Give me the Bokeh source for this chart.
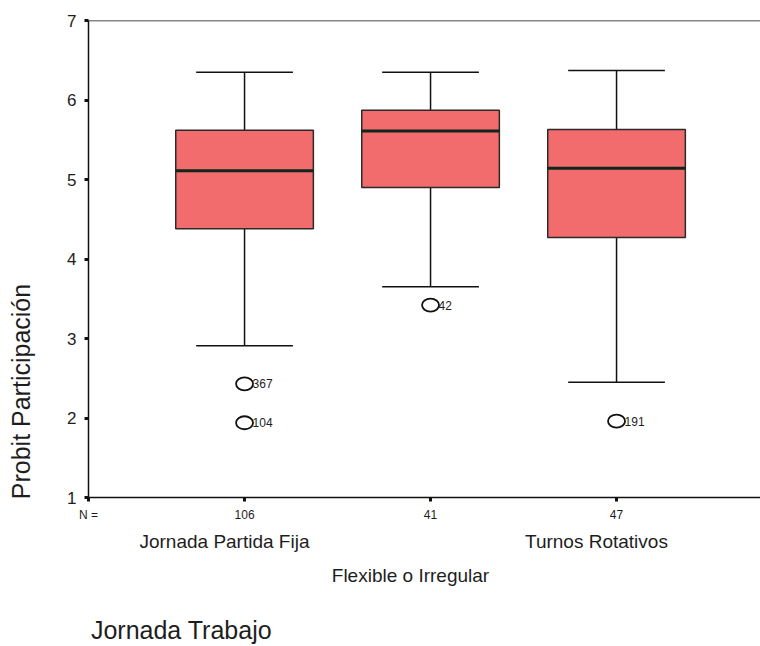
from bokeh.embed import file_html
from bokeh.resources import INLINE
from bokeh.plotting import figure
from bokeh.models import ColumnDataSource, Span, FixedTicker, LinearAxis
from bokeh.core.properties import value

# Group labels and sample sizes
categories = ["Jornada Partida Fija", "Flexible o Irregular", "Turnos Rotativos"]
n_counts = [106, 41, 47]
group_title = "Jornada Trabajo"
y_title = "Probit Participación"

# Box-plot statistics per group
whisker_low = [2.91, 3.65, 2.45]
q1 = [4.38, 4.90, 4.27]
median = [5.11, 5.61, 5.14]
q3 = [5.62, 5.87, 5.63]
whisker_high = [6.35, 6.35, 6.37]

# Outlying cases (group index, value, case id)
outlier_group = [1, 1, 2, 3]
outlier_value = [2.43, 1.94, 3.42, 1.96]
outlier_id = ["367", "104", "42", "191"]

FONT = "Liberation Sans"
TXT = "#1e1e1e"
INK = "#111111"

xs = [1, 2, 3]
box_w = 0.74
cap_w = 0.52
x_start, x_end = 0.161, 3.774
label_shift = -0.108          # category names sit a little left of their box
group_title_at = 0.661        # centre of the grouping-variable caption
ylabel_at = 2.333             # where the rotated y title is centred

p = figure(width=760, height=646, output_backend="svg", toolbar_location=None,
           x_range=(x_start, x_end), y_range=(1, 7))
p.min_border_left = 88
p.min_border_right = 0
p.min_border_top = 20
p.min_border_bottom = 0
p.outline_line_color = None
p.grid.visible = False

# Top border of the plot frame
p.add_layout(Span(location=7, dimension="width", line_color=INK, line_width=1.5))

src = ColumnDataSource(dict(
    x=xs, lo=whisker_low, q1=q1, med=median, q3=q3, hi=whisker_high,
    cl=[x - cap_w / 2 for x in xs], cr=[x + cap_w / 2 for x in xs],
    bl=[x - box_w / 2 for x in xs], br=[x + box_w / 2 for x in xs],
))

# Whiskers and caps
p.segment(x0="x", y0="q3", x1="x", y1="hi", source=src, line_color=INK, line_width=1.5)
p.segment(x0="x", y0="lo", x1="x", y1="q1", source=src, line_color=INK, line_width=1.5)
p.segment(x0="cl", y0="hi", x1="cr", y1="hi", source=src, line_color=INK, line_width=1.5)
p.segment(x0="cl", y0="lo", x1="cr", y1="lo", source=src, line_color=INK, line_width=1.5)

# Boxes and medians
p.quad(left="bl", right="br", bottom="q1", top="q3", source=src,
       fill_color="#F26B6D", line_color="#2a2a2a", line_width=1.5)
p.segment(x0="bl", y0="med", x1="br", y1="med", source=src,
          line_color="#10261a", line_width=3)

# Outliers with their case numbers
osrc = ColumnDataSource(dict(x=outlier_group, y=outlier_value, t=outlier_id))
p.ellipse(x="x", y="y", width=17, height=13, width_units="screen", height_units="screen",
          source=osrc, fill_color=None, line_color=INK, line_width=1.8)
p.text(x="x", y="y", text="t", source=osrc, x_offset=8, text_baseline="middle",
       text_font=value(FONT), text_font_size="12px", text_color=TXT)


def text_row(ticks, labels, size, standoff):
    """An axis with no line or ticks, used only to place text below/left of the frame."""
    ax = LinearAxis(ticker=FixedTicker(ticks=ticks),
                    major_label_overrides=dict(zip(ticks, labels)))
    ax.axis_line_color = None
    ax.major_tick_line_color = None
    ax.minor_tick_line_color = None
    ax.major_tick_out = 0
    ax.major_tick_in = 0
    ax.major_label_text_font = FONT
    ax.major_label_text_color = TXT
    ax.major_label_text_font_size = size
    ax.major_label_standoff = standoff
    return ax


# Main axes
p.yaxis.ticker = FixedTicker(ticks=[1, 2, 3, 4, 5, 6, 7])
p.xaxis.ticker = FixedTicker(ticks=[x_start] + xs)
p.xaxis.major_label_overrides = {x_start: "N =", **{x: str(n) for x, n in zip(xs, n_counts)}}
for ax in (p.xaxis, p.yaxis):
    ax.axis_line_color = INK
    ax.axis_line_width = 1.5
    ax.major_tick_line_color = INK
    ax.major_tick_line_width = 3
    ax.major_tick_in = 0
    ax.major_tick_out = 4
    ax.minor_tick_line_color = None
    ax.major_label_text_font = FONT
    ax.major_label_text_color = TXT
p.yaxis.major_label_text_font_size = "17px"
p.yaxis.major_label_standoff = 8
p.xaxis.major_label_text_font_size = "12px"
p.xaxis.major_label_standoff = 6

# Category names, staggered on two rows, then the grouping variable
row1 = [xs[0] + label_shift, xs[2] + label_shift]
p.add_layout(text_row(row1, [categories[0], categories[2]], "19px", 6), "below")
row2 = [xs[1] + label_shift]
p.add_layout(text_row(row2, [categories[1]], "19px", 10), "below")
p.add_layout(text_row([group_title_at], [group_title], "25px", 27), "below")

# Rotated y title
ytitle = text_row([ylabel_at], [y_title], "25px", 29)
ytitle.major_label_orientation = "vertical"
p.add_layout(ytitle, "left")

open("out.html", "w").write(file_html(p, INLINE))
